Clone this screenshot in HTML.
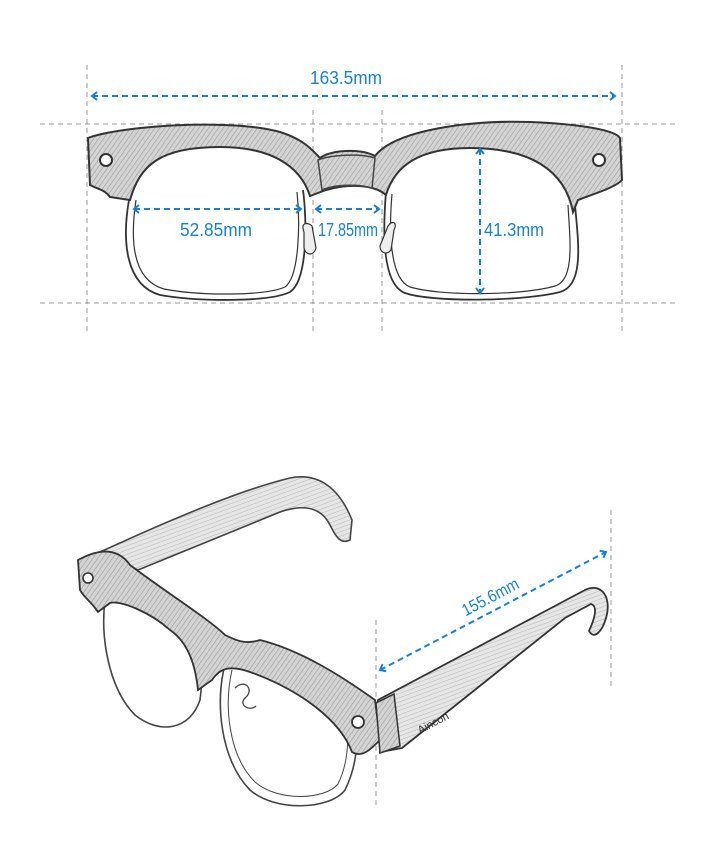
<!DOCTYPE html>
<html><head><style>
html,body{margin:0;padding:0;background:#fff;}
svg{display:block;}
text{font-family:"Liberation Sans",sans-serif;fill:#1a7fd0;}
</style></head><body>
<svg width="716" height="852" viewBox="0 0 716 852" xmlns="http://www.w3.org/2000/svg">
<defs>
<pattern id="hatch" width="4" height="4" patternUnits="userSpaceOnUse" patternTransform="rotate(35)">
<rect width="4" height="4" fill="#d4d4d4"/><line x1="0" y1="0" x2="0" y2="4" stroke="#999" stroke-width="1.2"/></pattern>
<pattern id="hatch2" width="4" height="4" patternUnits="userSpaceOnUse" patternTransform="rotate(70)">
<rect width="4" height="4" fill="#e6e6e6"/><line x1="0" y1="0" x2="0" y2="4" stroke="#b5b5b5" stroke-width="1"/></pattern>
<marker id="ah" markerWidth="10" markerHeight="10" refX="6" refY="5" orient="auto-start-reverse" markerUnits="userSpaceOnUse">
<path d="M1,1 L6,5 L1,9" fill="none" stroke="#1a7fd0" stroke-width="2"/></marker>
</defs>
<g stroke="#999" stroke-width="1" stroke-dasharray="5,4" fill="none">
<line x1="87" y1="65" x2="87" y2="335"/><line x1="622" y1="65" x2="622" y2="335"/>
<line x1="313" y1="110" x2="313" y2="335"/><line x1="382" y1="110" x2="382" y2="335"/>
<line x1="40" y1="124" x2="676" y2="124"/><line x1="40" y1="303" x2="676" y2="303"/>
</g>
<g stroke="#333" stroke-width="1.8" fill="none">
<path d="M129,200 C122,240 125,285 160,295 C200,302 270,302 290,292 C308,280 307,220 303,190" />
<path d="M136,200 C130,240 132,280 164,289 C200,296 265,296 285,287 C300,276 300,220 297,192" stroke-width="1.2"/>
<path d="M386,192 C382,240 384,285 405,293 C430,302 520,302 560,292 C585,285 578,240 575,205"/>
<path d="M392,194 C388,240 392,280 410,287 C440,296 520,296 555,286 C575,280 570,240 568,205" stroke-width="1.2"/>
<path d="M304,232 C300,222 308,222 312,226 L316,248 C314,256 306,256 304,248 Z" fill="#eee" stroke-width="1.2"/>
<path d="M388,226 C392,220 398,222 394,230 L391,250 C386,256 380,252 380,246 Z" fill="#eee" stroke-width="1.2"/>
</g>
<path d="M88,138 C120,126 230,118 280,132 C305,140 312,150 320,158 C330,150 360,148 375,156 C395,130 470,120 530,122 C580,124 615,130 620,138 L622,180 C615,188 590,195 578,200 L573,212 C565,170 530,148 470,148 C420,148 395,165 386,195 C375,185 350,183 326,190 L310,196 C300,165 270,147 220,147 C160,147 140,165 130,200 L110,197 C105,190 100,190 90,185 Z" fill="url(#hatch)" stroke="#333" stroke-width="2"/>
<path d="M318,160 C330,155 360,153 375,158 L372,188 C360,184 335,184 322,190 Z" fill="url(#hatch)" stroke="#444" stroke-width="1.5"/>
<circle cx="106" cy="160" r="6" fill="#fff" stroke="#333" stroke-width="2"/>
<circle cx="599" cy="160" r="6" fill="#fff" stroke="#333" stroke-width="2"/>
<g stroke="#1a7fd0" stroke-width="2" stroke-dasharray="6,4" fill="none">
<line x1="92" y1="96" x2="615" y2="96" marker-start="url(#ah)" marker-end="url(#ah)"/>
<line x1="134" y1="209" x2="301" y2="209" marker-start="url(#ah)" marker-end="url(#ah)"/>
<line x1="316" y1="209" x2="379" y2="209" marker-start="url(#ah)" marker-end="url(#ah)"/>
<line x1="480" y1="149" x2="480" y2="293" marker-start="url(#ah)" marker-end="url(#ah)"/>
</g>
<text x="346" y="84" font-size="18" text-anchor="middle" textLength="72" lengthAdjust="spacingAndGlyphs">163.5mm</text>
<text x="216" y="236" font-size="18" text-anchor="middle" textLength="72" lengthAdjust="spacingAndGlyphs">52.85mm</text>
<text x="348" y="236" font-size="18" text-anchor="middle" textLength="60" lengthAdjust="spacingAndGlyphs">17.85mm</text>
<text x="514" y="236" font-size="18" text-anchor="middle" textLength="60" lengthAdjust="spacingAndGlyphs">41.3mm</text>

<g stroke="#999" stroke-width="1" stroke-dasharray="5,4">
<line x1="376" y1="620" x2="376" y2="805"/><line x1="611" y1="510" x2="611" y2="690"/>
</g>
<path d="M100,552 C170,520 240,490 290,478 C320,472 340,490 352,520 L350,540 C340,545 335,535 330,525 C320,505 300,505 280,512 L138,570 Z" fill="url(#hatch2)" stroke="#444" stroke-width="1.6"/>
<g stroke="#444" stroke-width="1.6" fill="none">
<path d="M105,600 C100,640 110,690 135,715 C160,735 190,730 200,700 L205,655 C195,630 160,610 105,600 Z"/>
<path d="M225,665 C215,700 220,760 250,790 C275,812 330,810 345,790 C360,760 360,720 350,700 C310,685 260,665 225,665 Z"/>
<path d="M232,670 C224,705 228,755 255,782 C278,802 325,800 338,784 C350,760 350,725 343,706" stroke-width="1"/>
<path d="M235,688 C245,678 255,690 245,698 C238,705 250,712 256,706" stroke-width="1.3"/>
</g>
<path d="M78,560 C100,548 118,548 130,565 C170,595 210,620 225,635 C235,640 245,645 260,640 C300,650 340,675 375,700 L380,740 C370,750 362,758 352,752 C340,720 300,690 250,672 C230,665 220,668 212,680 L198,690 C195,660 185,640 170,630 C150,612 120,600 110,603 L98,612 C90,600 86,600 80,590 Z" fill="url(#hatch)" stroke="#333" stroke-width="1.8"/>
<circle cx="88" cy="578" r="5" fill="#fff" stroke="#333" stroke-width="1.6"/>
<circle cx="358" cy="722" r="6" fill="#fff" stroke="#333" stroke-width="1.8"/>
<path d="M378,700 L585,590 C602,582 612,598 606,618 C602,632 594,640 589,631 C595,618 598,606 591,604 L565,618 L402,748 L380,752 Z" fill="url(#hatch2)" stroke="#333" stroke-width="1.8"/>
<path d="M376,703 L394,694 L400,746 L380,753 Z" fill="url(#hatch)" stroke="#333" stroke-width="1.5"/>
<text x="420" y="734" font-size="11" style="fill:#333" transform="rotate(-28 420 734)">Aincon</text>
<line x1="380" y1="670" x2="606" y2="552" stroke="#1a7fd0" stroke-width="2" stroke-dasharray="6,4" marker-start="url(#ah)" marker-end="url(#ah)"/>
<text x="493" y="602" font-size="17" text-anchor="middle" transform="rotate(-28 493 602)" textLength="62" lengthAdjust="spacingAndGlyphs">155.6mm</text>
</svg>
</body></html>
